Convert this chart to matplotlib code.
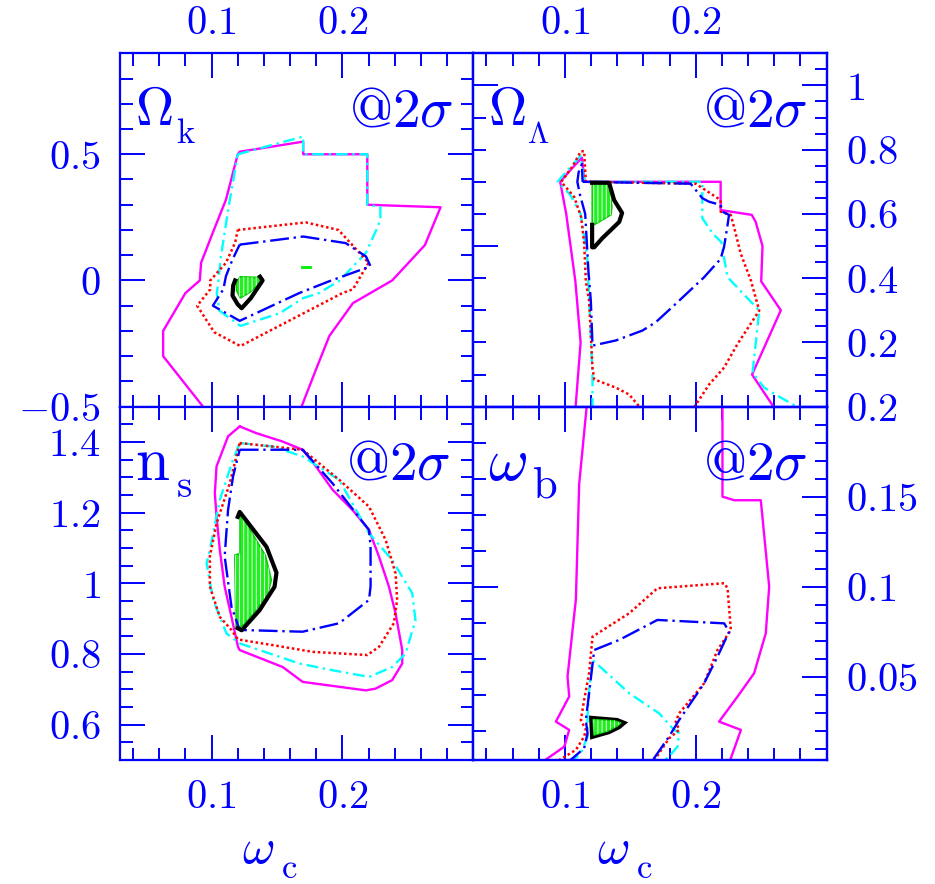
import matplotlib.pyplot as plt
from matplotlib.ticker import MultipleLocator, FixedLocator, FuncFormatter

plt.rcParams['mathtext.fontset'] = 'cm'
plt.rcParams['font.family'] = 'DejaVu Serif'
plt.rcParams['hatch.linewidth'] = 0.6

BLUE = '#0000ff'
WC_LIM = (0.03, 0.30)

# ---- Omega_k vs omega_c (top left) ----
ok_magenta = [(0.095, -0.51), (0.063, -0.30), (0.063, -0.20), (0.080, -0.05), (0.091, 0.00),
              (0.092, 0.07), (0.101, 0.19), (0.111, 0.32), (0.120, 0.50), (0.1215, 0.51),
              (0.170, 0.55), (0.170, 0.50), (0.219, 0.50), (0.219, 0.30), (0.275, 0.29),
              (0.263, 0.14), (0.238, 0.00), (0.208, -0.09), (0.190, -0.22), (0.180, -0.35),
              (0.168, -0.51)]
ok_cyan = [(0.120, 0.50), (0.170, 0.57), (0.170, 0.50), (0.219, 0.50), (0.219, 0.30),
           (0.229, 0.29), (0.229, 0.24), (0.225, 0.19), (0.218, 0.11), (0.198, 0.00),
           (0.182, -0.05), (0.170, -0.07), (0.152, -0.13), (0.122, -0.18), (0.106, -0.12),
           (0.104, -0.05), (0.105, -0.015), (0.107, 0.09), (0.110, 0.19), (0.113, 0.29),
           (0.120, 0.50)]
ok_red = [(0.120, 0.20), (0.172, 0.23), (0.197, 0.20), (0.220, 0.07), (0.208, -0.035),
          (0.200, -0.05), (0.122, -0.26), (0.102, -0.205), (0.089, -0.10), (0.099, -0.035),
          (0.099, 0.00), (0.111, 0.07), (0.118, 0.15), (0.120, 0.20)]
ok_blue = [(0.1215, 0.142), (0.170, 0.174), (0.2025, 0.148), (0.218, 0.095), (0.2215, 0.056),
           (0.190, -0.003), (0.167, -0.05), (0.1215, -0.16), (0.101, -0.10), (0.109, -0.035),
           (0.111, 0.017), (0.116, 0.083), (0.1215, 0.142)]
ok_black = [(0.1180, 0.000), (0.1165, -0.02), (0.1160, -0.06), (0.1200, -0.095), (0.1230, -0.11),
            (0.1300, -0.07), (0.1390, 0.00), (0.1370, 0.015)]
ok_green = [(0.1190, -0.005), (0.1220, 0.015), (0.1370, 0.012), (0.1385, 0.000), (0.1300, -0.045),
            (0.1220, -0.07), (0.1190, -0.04)]
ok_green_dot = [(0.169, 0.055), (0.175, 0.055)]

# ---- Omega_Lambda vs omega_c (top right) ----
ol_magenta = [(0.108, -0.01), (0.112, 0.20), (0.108, 0.39), (0.101, 0.60), (0.0964, 0.70),
              (0.105, 0.74), (0.113, 0.775), (0.115, 0.70), (0.219, 0.70), (0.219, 0.612),
              (0.2428, 0.597), (0.2458, 0.575), (0.251, 0.50), (0.250, 0.39), (0.265, 0.30),
              (0.243, 0.10), (0.261, -0.01)]
ol_cyan = [(0.1211, -0.01), (0.1211, 0.09), (0.119, 0.30), (0.117, 0.47), (0.112, 0.60),
           (0.104, 0.66), (0.0944, 0.70), (0.103, 0.74), (0.112, 0.78), (0.115, 0.70),
           (0.205, 0.70), (0.205, 0.634), (0.205, 0.587), (0.2127, 0.54), (0.2196, 0.512),
           (0.2219, 0.456), (0.2243, 0.403), (0.2485, 0.299), (0.2434, 0.106), (0.2523, 0.059),
           (0.265, 0.028), (0.2816, -0.01)]
ol_red = [(0.159, -0.01), (0.149, 0.038), (0.139, 0.059), (0.1224, 0.085), (0.1211, 0.12),
          (0.1185, 0.33), (0.116, 0.39), (0.1147, 0.51), (0.1124, 0.59), (0.1071, 0.653),
          (0.0972, 0.70), (0.106, 0.749), (0.1122, 0.795), (0.1147, 0.795), (0.116, 0.70),
          (0.200, 0.694), (0.219, 0.643), (0.219, 0.607), (0.2267, 0.597), (0.2292, 0.56),
          (0.2343, 0.477), (0.2421, 0.393), (0.2485, 0.299), (0.2319, 0.195), (0.2217, 0.122),
          (0.2102, 0.069), (0.1975, -0.01)]
ol_blue = [(0.1135, 0.70), (0.1961, 0.694), (0.205, 0.649), (0.2101, 0.638), (0.219, 0.628),
           (0.2203, 0.607), (0.2254, 0.597), (0.2241, 0.56), (0.2216, 0.497), (0.219, 0.46),
           (0.2064, 0.403), (0.1847, 0.32), (0.1695, 0.263), (0.1593, 0.237), (0.1389, 0.206),
           (0.1211, 0.19), (0.1198, 0.33), (0.118, 0.42), (0.1155, 0.60), (0.1115, 0.66),
           (0.1095, 0.70), (0.1105, 0.73), (0.113, 0.755), (0.1135, 0.70)]
ol_black = [(0.1208, 0.566), (0.1208, 0.496), (0.1224, 0.496), (0.1285, 0.524), (0.1415, 0.575),
            (0.1437, 0.603), (0.1376, 0.643), (0.1338, 0.697), (0.1208, 0.697)]
ol_green = [(0.1208, 0.697), (0.1338, 0.697), (0.136, 0.622), (0.1353, 0.597), (0.1262, 0.575),
            (0.1224, 0.566), (0.1208, 0.566)]

# ---- n_s vs omega_c (bottom left) ----
ns_magenta = [(0.1215, 1.444), (0.1342, 1.425), (0.1544, 1.401), (0.1696, 1.378), (0.1797, 1.331),
              (0.1924, 1.265), (0.2076, 1.208), (0.2203, 1.151), (0.2279, 1.076), (0.2355, 0.991),
              (0.2406, 0.915), (0.2457, 0.811), (0.2457, 0.773), (0.238, 0.726), (0.2254, 0.702),
              (0.2178, 0.697), (0.1696, 0.721), (0.1544, 0.763), (0.1215, 0.811), (0.1202, 0.820),
              (0.1152, 0.905), (0.110, 0.991), (0.1063, 1.095), (0.1038, 1.189), (0.1025, 1.255),
              (0.1038, 1.331), (0.1126, 1.416), (0.1215, 1.444)]
ns_cyan = [(0.1215, 1.397), (0.1468, 1.387), (0.1696, 1.359), (0.1975, 1.293), (0.2203, 1.142),
           (0.238, 1.066), (0.2533, 0.972), (0.2558, 0.896), (0.2482, 0.801), (0.238, 0.763),
           (0.2203, 0.735), (0.1924, 0.754), (0.167, 0.773), (0.1215, 0.830), (0.1114, 0.858),
           (0.1012, 0.953), (0.0962, 1.057), (0.0987, 1.095), (0.1063, 1.236), (0.1164, 1.35),
           (0.1215, 1.397)]
ns_red = [(0.1215, 1.397), (0.1696, 1.378), (0.1975, 1.293), (0.2203, 1.217), (0.233, 1.123),
          (0.2406, 1.028), (0.2418, 0.953), (0.2393, 0.887), (0.2279, 0.820), (0.219, 0.797),
          (0.1772, 0.806), (0.1468, 0.825), (0.1202, 0.841), (0.1152, 0.868), (0.1063, 0.905),
          (0.0987, 0.991), (0.0987, 1.076), (0.1038, 1.170), (0.1139, 1.283), (0.1215, 1.397)]
ns_blue = [(0.1215, 1.378), (0.1696, 1.378), (0.1924, 1.283), (0.2203, 1.151), (0.2215, 1.104),
           (0.2215, 0.991), (0.2203, 0.953), (0.1975, 0.887), (0.1696, 0.863), (0.1215, 0.868),
           (0.1152, 0.934), (0.110, 1.076), (0.1126, 1.208), (0.1164, 1.302), (0.1215, 1.378)]
ns_black = [(0.120, 1.188), (0.1215, 1.202), (0.142, 1.103), (0.1496, 1.03), (0.1481, 0.99),
            (0.1367, 0.924), (0.123, 0.867), (0.120, 0.873)]
ns_green = [(0.1215, 1.202), (0.1413, 1.078), (0.1458, 1.009), (0.1428, 0.967), (0.1329, 0.919),
            (0.1215, 0.873), (0.1185, 0.873), (0.1177, 1.08), (0.1215, 1.085), (0.1215, 1.202)]

# ---- omega_b vs omega_c (bottom right) ----
wb_magenta_left = [(0.1173, 0.205), (0.1109, 0.157), (0.1084, 0.093), (0.102, 0.050), (0.1033, 0.039),
                   (0.0931, 0.025), (0.1033, 0.0204), (0.0995, 0.0111), (0.0817, 0.002)]
wb_magenta_right = [(0.2204, 0.205), (0.2204, 0.150), (0.2294, 0.148), (0.2497, 0.148), (0.2561, 0.100),
                    (0.2535, 0.0741), (0.2446, 0.0519), (0.2319, 0.0389), (0.2178, 0.025),
                    (0.2345, 0.0204), (0.2255, 0.002)]
wb_cyan = [(0.1033, 0.002), (0.1122, 0.0074), (0.1173, 0.0167), (0.1173, 0.0278), (0.1185, 0.0426),
           (0.1211, 0.0593), (0.1491, 0.0408), (0.172, 0.0296), (0.1822, 0.0213), (0.1873, 0.0185),
           (0.186, 0.0111), (0.1796, 0.0056), (0.1733, 0.002)]
wb_red = [(0.0918, 0.002), (0.1084, 0.0093), (0.1147, 0.0167), (0.116, 0.0204), (0.1122, 0.0259),
          (0.1147, 0.037), (0.1185, 0.0519), (0.1211, 0.0722), (0.1491, 0.0852), (0.1707, 0.0991),
          (0.2217, 0.1019), (0.2243, 0.0991), (0.2268, 0.0759), (0.2166, 0.0648), (0.2064, 0.0463),
          (0.1873, 0.0296), (0.1847, 0.025), (0.1873, 0.0204), (0.1796, 0.0157), (0.1669, 0.002)]
wb_blue = [(0.1008, 0.002), (0.1058, 0.0046), (0.1147, 0.0102), (0.1173, 0.0185), (0.116, 0.0259),
           (0.1185, 0.0408), (0.1224, 0.0648), (0.1415, 0.0704), (0.1707, 0.0815), (0.2217, 0.0796),
           (0.2255, 0.075), (0.2166, 0.0611), (0.2064, 0.0463), (0.1873, 0.0259), (0.1796, 0.0167),
           (0.1656, 0.002)]
wb_black = [(0.1201, 0.0271), (0.1399, 0.0259), (0.1453, 0.0243), (0.1415, 0.0220), (0.1338, 0.0192),
            (0.1208, 0.0165), (0.1201, 0.0271)]
wb_green = [(0.1215, 0.0262), (0.138, 0.0255), (0.143, 0.0243), (0.140, 0.0225), (0.133, 0.0198),
            (0.1222, 0.0175)]

STYLES = {
    'magenta': dict(color='#ff00ff', lw=1.7, ls='-'),
    'cyan': dict(color='#00ffff', lw=1.7, ls=(0, (5, 2, 1, 2))),
    'red': dict(color='#ff0000', lw=1.8, ls=(0, (1, 1.1))),
    'blue': dict(color='#0000ff', lw=1.7, ls=(0, (8, 2, 1, 2))),
}


def fmt(v, pos):
    v = round(v, 4)
    if v == 0:
        return '$0$'
    return '$%g$' % v


def xy(pts):
    return [p[0] for p in pts], [p[1] for p in pts]


def curve(ax, pts, key):
    x, y = xy(pts)
    ax.plot(x, y, **STYLES[key])


def green_fill(ax, pts):
    x, y = xy(pts)
    ax.fill(x, y, facecolor='#22ee22', edgecolor='#00cc00', lw=1)
    ax.fill(x, y, facecolor='none', edgecolor='white', hatch='||||', lw=0)


def style_axis(ax, which_y):
    for s in ax.spines.values():
        s.set_color(BLUE)
        s.set_linewidth(1.6)
    ax.tick_params(axis=which_y, which='both', direction='in', colors=BLUE, width=1.4)
    ax.tick_params(axis=which_y, which='major', length=18)
    ax.tick_params(axis=which_y, which='minor', length=9)


def ptext(s, px, py, size, ha='left'):
    # place text at a pixel position of the 935x884 canvas (baseline)
    fig.text(px / 935, 1 - py / 884, s, fontsize=size, color=BLUE, ha=ha, va='baseline')


fig = plt.figure(figsize=(9.35, 8.84), dpi=100)
L, R, W = 0.1283, 0.5062, 0.3779
TB, BB, H = 0.54, 0.1403, 0.3997
ax_ok = fig.add_axes([L, TB, W, H])
ax_ol = fig.add_axes([R, TB, W, H])
ax_ns = fig.add_axes([L, BB, W, H])
ax_wb = fig.add_axes([R, BB, W, H])

ylims = {ax_ok: (-0.5, 0.9), ax_ol: (0.0, 1.1), ax_ns: (0.5, 1.5), ax_wb: (0.0037, 0.2)}
left_ticks = {ax_ok: (0.5, 0.1), ax_ol: (0.5, 0.1), ax_ns: (0.2, 0.05), ax_wb: (0.1, 0.02)}
TICK_FS = 29

for ax in [ax_ok, ax_ol, ax_ns, ax_wb]:
    ax.set_xlim(WC_LIM)
    ax.set_ylim(ylims[ax])
    ax.xaxis.set_major_locator(FixedLocator([0.1, 0.2]))
    ax.xaxis.set_minor_locator(MultipleLocator(0.02))
    ax.xaxis.set_major_formatter(FuncFormatter(fmt))
    ax.yaxis.set_major_locator(MultipleLocator(left_ticks[ax][0]))
    ax.yaxis.set_minor_locator(MultipleLocator(left_ticks[ax][1]))
    ax.yaxis.set_major_formatter(FuncFormatter(fmt))
    style_axis(ax, 'x')
    style_axis(ax, 'y')
    ax.tick_params(axis='x', which='both', top=True, bottom=True, labelsize=TICK_FS)
    ax.tick_params(axis='y', which='both', left=True, labelsize=TICK_FS, pad=14)

for ax in [ax_ok, ax_ol]:
    ax.tick_params(axis='x', labeltop=True, labelbottom=False, pad=8)
for ax in [ax_ns, ax_wb]:
    ax.tick_params(axis='x', labeltop=False, labelbottom=True, pad=14)
for ax in [ax_ok, ax_ns]:
    ax.tick_params(axis='y', which='both', right=True)
for ax in [ax_ol, ax_wb]:
    ax.tick_params(axis='y', which='both', labelleft=False, right=False)

# right-hand scales for the right column
right_major = {ax_ol: [0.2, 0.4, 0.6, 0.8, 1.0], ax_wb: [0.05, 0.1, 0.15, 0.2]}
right_minor = {ax_ol: 0.05, ax_wb: 0.01}
for ax in [ax_ol, ax_wb]:
    tw = ax.twinx()
    tw.set_ylim(ylims[ax])
    tw.yaxis.set_major_locator(FixedLocator(right_major[ax]))
    tw.yaxis.set_minor_locator(MultipleLocator(right_minor[ax]))
    tw.yaxis.set_major_formatter(FuncFormatter(fmt))
    style_axis(tw, 'y')
    tw.tick_params(axis='y', which='both', left=False, right=True, labelsize=TICK_FS, pad=14)

# contours
for ax, sets in [
    (ax_ok, [(ok_magenta, 'magenta'), (ok_cyan, 'cyan'), (ok_red, 'red'), (ok_blue, 'blue')]),
    (ax_ol, [(ol_magenta, 'magenta'), (ol_cyan, 'cyan'), (ol_red, 'red'), (ol_blue, 'blue')]),
    (ax_ns, [(ns_magenta, 'magenta'), (ns_cyan, 'cyan'), (ns_red, 'red'), (ns_blue, 'blue')]),
    (ax_wb, [(wb_magenta_left, 'magenta'), (wb_magenta_right, 'magenta'), (wb_cyan, 'cyan'),
             (wb_red, 'red'), (wb_blue, 'blue')]),
]:
    for pts, key in sets:
        curve(ax, pts, key)

green_fill(ax_ok, ok_green)
ax_ok.plot(*xy(ok_black), color='black', lw=3)
ax_ok.plot(*xy(ok_green_dot), color='#00ee00', lw=2)

ax_ol.plot(*xy(ol_black), color='black', lw=3)
green_fill(ax_ol, ol_green)

green_fill(ax_ns, ns_green)
ax_ns.plot(*xy(ns_black), color='black', lw=3)

bx, by = xy(wb_black)
ax_wb.fill(bx, by, facecolor='#22ee22', edgecolor='black', lw=3)
green_fill(ax_wb, wb_green)

# panel labels (symbol and its subscript drawn as separate pieces)
ptext(r'$\Omega$', 135, 125, 38)
ptext(r'$\mathrm{k}$', 176, 143, 25)
ptext(r'$\Omega$', 488, 125, 38)
ptext(r'$\mathrm{\Lambda}$', 527, 143, 22)
ptext(r'$\mathrm{n}$', 135, 480, 44)
ptext(r'$\mathrm{s}$', 176, 497, 28)
ptext(r'$\omega$', 488, 480, 44)
ptext(r'$\mathrm{b}$', 532, 497, 32)
for px, py in [(453, 127), (807, 127), (450, 480), (807, 480)]:
    ptext(r'$@2\sigma$', px, py, 40, ha='right')

# x axis titles
for px in [242, 597]:
    ptext(r'$\omega$', px, 863, 36)
    ptext(r'$\mathrm{c}$', px + 39, 878, 25)

plt.savefig('out.png', dpi=100)
